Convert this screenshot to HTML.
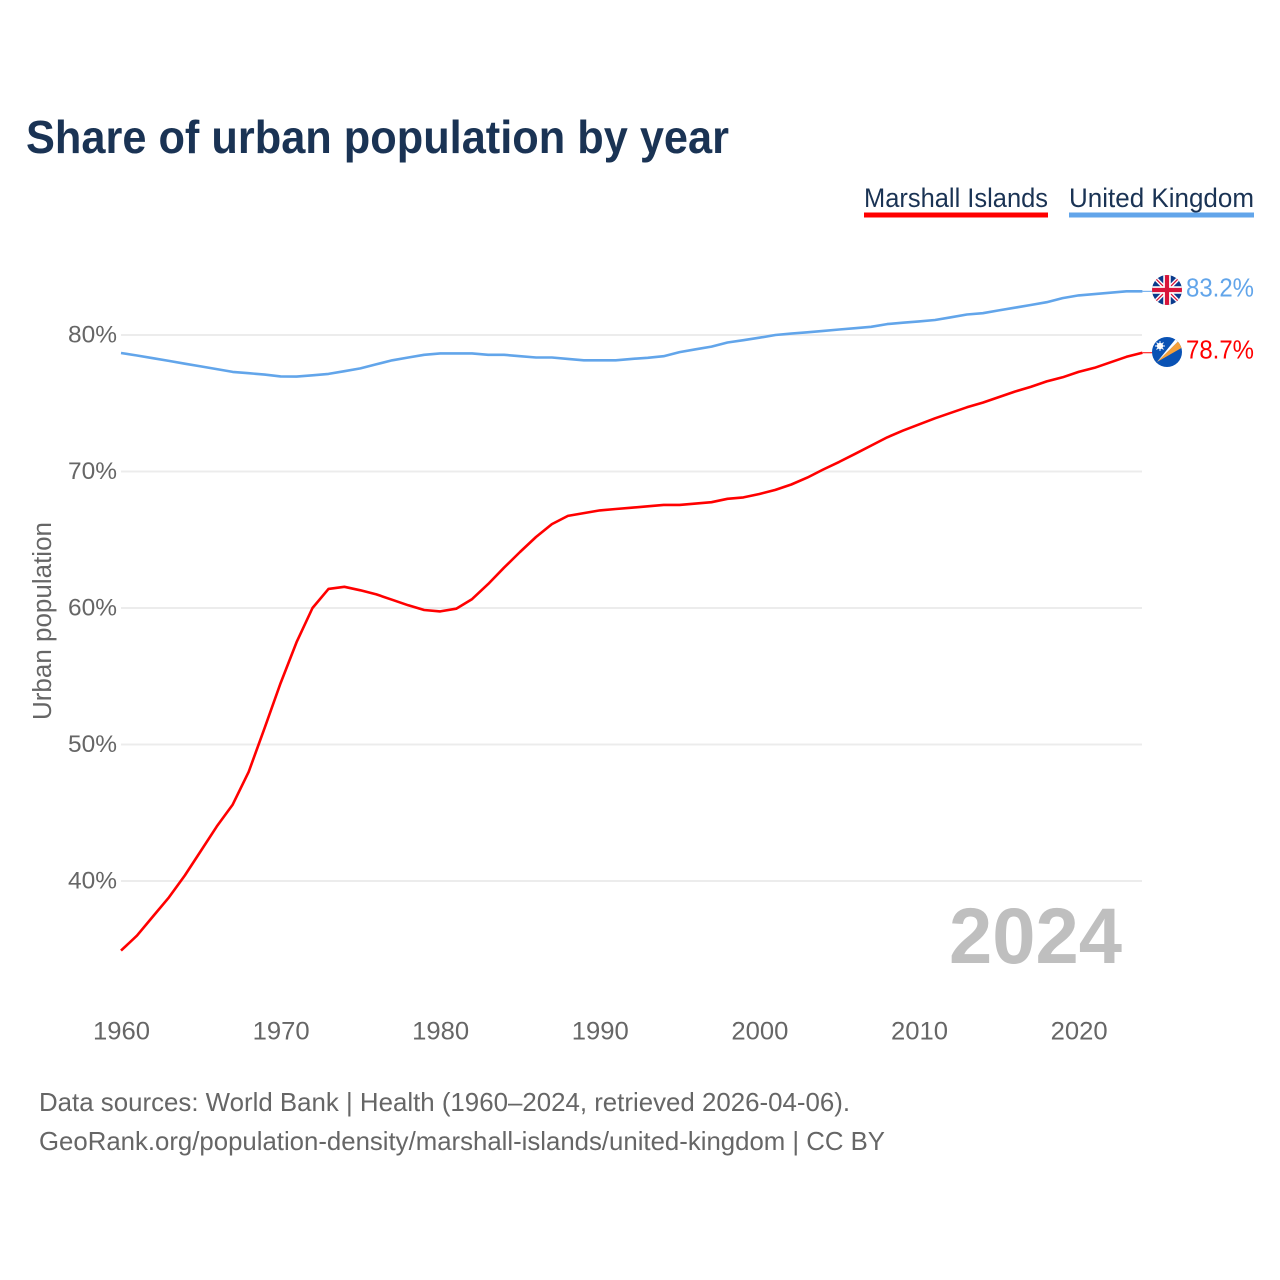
<!DOCTYPE html>
<html lang="en">
<head>
<meta charset="utf-8">
<title>Share of urban population by year</title>
<style>
html,body{margin:0;padding:0;background:#fff;width:1280px;height:1280px;overflow:hidden}
svg{display:block}
text{font-family:"Liberation Sans",sans-serif}
</style>
</head>
<body>
<svg id="chart" xmlns="http://www.w3.org/2000/svg" width="1280" height="1280" viewBox="0 0 1280 1280">
  <defs>
    <clipPath id="uk-clip"><circle cx="1167" cy="290" r="15"/></clipPath>
    <clipPath id="mh-clip"><circle cx="1167" cy="352" r="15"/></clipPath>
  </defs>
  <rect width="1280" height="1280" fill="#fff"/>
  <text x="26" y="153" font-size="46" font-weight="700" fill="#1a3354" textLength="703" lengthAdjust="spacingAndGlyphs">Share of urban population by year</text>

  <g>
    <g>
      <text x="864" y="207" font-size="27" fill="#1a3354" textLength="184" lengthAdjust="spacingAndGlyphs">Marshall Islands</text>
      <rect x="864" y="212.5" width="184" height="5" fill="#ff0000"/>
    </g>
    <g>
      <text x="1069" y="207" font-size="27" fill="#1a3354" textLength="185" lengthAdjust="spacingAndGlyphs">United Kingdom</text>
      <rect x="1069" y="212.5" width="185" height="5" fill="#62a5ea"/>
    </g>
  </g>

  <g id="grid"></g>
  <g id="yticks"></g>
  <g id="xticks"></g>
  <text transform="translate(51 720) rotate(-90)" font-size="25.5" fill="#666" textLength="198" lengthAdjust="spacingAndGlyphs">Urban population</text>
  <text x="949" y="963" font-size="79" font-weight="700" fill="#bfbfbf" textLength="173" lengthAdjust="spacingAndGlyphs">2024</text>
  <g id="series"></g>

  <g clip-path="url(#uk-clip)">
    <rect x="1152" y="275" width="30" height="30" fill="#0a3a8c"/>
    <path d="M1152 275L1182 305M1182 275L1152 305" stroke="#fff" stroke-width="4"/>
    <path d="M1152 275L1182 305M1182 275L1152 305" stroke="#d8143a" stroke-width="1.3"/>
    <path d="M1167 275V305M1152 290H1182" stroke="#fff" stroke-width="7.5"/>
    <path d="M1167 275V305M1152 290H1182" stroke="#d8143a" stroke-width="4.2"/>
  </g>
  <g clip-path="url(#mh-clip)">
    <rect x="1152" y="337" width="30" height="30" fill="#0a52b4"/>
    <path d="M1157 362L1180 339.5L1183 347Z" fill="#f5a03a"/>
    <path d="M1157 362L1176.5 338L1180 339.5Z" fill="#fff"/>
    <circle cx="1160" cy="346" r="3.2" fill="#fff"/>
    <path d="M1160 341V351M1155 346H1165M1156.5 342.5L1163.5 349.5M1163.5 342.5L1156.5 349.5" stroke="#fff" stroke-width="0.9"/>
  </g>

  <text id="value-uk" x="1186" y="296.5" font-size="26" fill="#62a5ea" textLength="68" lengthAdjust="spacingAndGlyphs"></text>
  <text id="value-mh" x="1186" y="358.5" font-size="26" fill="#ff0000" textLength="68" lengthAdjust="spacingAndGlyphs"></text>

  <text x="39" y="1111" font-size="26" fill="#666" textLength="811" lengthAdjust="spacingAndGlyphs">Data sources: World Bank | Health (1960–2024, retrieved 2026-04-06).</text>
  <text x="39" y="1150" font-size="26" fill="#666" textLength="846" lengthAdjust="spacingAndGlyphs">GeoRank.org/population-density/marshall-islands/united-kingdom | CC BY</text>
</svg>
<script>
const startYear = 1960;
const xTickYears = [1960, 1970, 1980, 1990, 2000, 2010, 2020];
const yTickValues = [40, 50, 60, 70, 80];
const marshallIslands = [34.9,36.0,37.4,38.8,40.4,42.2,44.0,45.6,48.0,51.2,54.5,57.5,60.0,61.4,61.55,61.3,61.0,60.6,60.2,59.85,59.75,59.95,60.65,61.75,62.95,64.1,65.2,66.15,66.75,66.95,67.15,67.25,67.35,67.45,67.55,67.55,67.65,67.75,68.0,68.1,68.35,68.65,69.05,69.55,70.15,70.7,71.3,71.9,72.5,73.0,73.45,73.9,74.3,74.7,75.05,75.45,75.85,76.2,76.6,76.9,77.3,77.6,78.0,78.4,78.7];
const unitedKingdom = [78.68,78.5,78.3,78.1,77.9,77.7,77.5,77.3,77.2,77.1,76.97,76.95,77.05,77.15,77.35,77.55,77.85,78.15,78.35,78.55,78.65,78.65,78.65,78.55,78.55,78.45,78.35,78.35,78.25,78.15,78.15,78.15,78.25,78.33,78.45,78.75,78.95,79.15,79.45,79.62,79.8,80.0,80.1,80.2,80.3,80.4,80.5,80.6,80.8,80.9,81.0,81.1,81.3,81.5,81.6,81.8,82.0,82.2,82.4,82.7,82.9,83.0,83.1,83.2,83.2];

const svgNS = 'http://www.w3.org/2000/svg';
function xScale(year) { return 121 + (year - 1960) * 15.96; }
function yScale(v) { return 335 + (80 - v) * 13.65; }

const grid = document.getElementById('grid');
const yticks = document.getElementById('yticks');
const xticks = document.getElementById('xticks');
const series = document.getElementById('series');

yTickValues.forEach(function (v) {
  const line = document.createElementNS(svgNS, 'line');
  
  
  line.setAttribute('x1', 121);
  line.setAttribute('x2', 1142);
  line.setAttribute('y1', yScale(v));
  line.setAttribute('y2', yScale(v));
  line.setAttribute('stroke', '#ececec');
  line.setAttribute('stroke-width', 2);
  grid.appendChild(line);
  const t = document.createElementNS(svgNS, 'text');
  
  
  t.setAttribute('x', 68);
  t.setAttribute('y', yScale(v) + 7.5);
  t.setAttribute('font-size', 24.5);
  t.setAttribute('fill', '#666');
  t.setAttribute('textLength', 49);
  t.setAttribute('lengthAdjust', 'spacingAndGlyphs');
  t.textContent = v + '%';
  yticks.appendChild(t);
});

xTickYears.forEach(function (y) {
  const t = document.createElementNS(svgNS, 'text');
  
  
  t.setAttribute('x', xScale(y) - 28);
  t.setAttribute('y', 1039.5);
  t.setAttribute('font-size', 25);
  t.setAttribute('fill', '#666');
  t.setAttribute('textLength', 57);
  t.setAttribute('lengthAdjust', 'spacingAndGlyphs');
  t.textContent = y;
  xticks.appendChild(t);
});

function drawLine(values, color, name) {
  const pts = values.map(function (v, i) {
    return xScale(startYear + i).toFixed(1) + ',' + yScale(v).toFixed(1);
  });
  const path = document.createElementNS(svgNS, 'polyline');
  
  
  path.setAttribute('points', pts.join(' '));
  path.setAttribute('fill', 'none');
  path.setAttribute('stroke', color);
  path.setAttribute('stroke-width', 2.6);
  path.setAttribute('stroke-linejoin', 'round');
  series.appendChild(path);
  const last = values.length - 1;
  const link = document.createElementNS(svgNS, 'line');
  
  
  link.setAttribute('x1', xScale(startYear + last));
  link.setAttribute('x2', 1153);
  link.setAttribute('y1', yScale(values[last]));
  link.setAttribute('y2', yScale(values[last]));
  link.setAttribute('stroke', color);
  link.setAttribute('stroke-width', 1);
  series.appendChild(link);
}
drawLine(unitedKingdom, '#62a5ea', 'line-united-kingdom');
drawLine(marshallIslands, '#ff0000', 'line-marshall-islands');

document.getElementById('value-uk').textContent = unitedKingdom[unitedKingdom.length - 1].toFixed(1) + '%';
document.getElementById('value-mh').textContent = marshallIslands[marshallIslands.length - 1].toFixed(1) + '%';
</script>
</body>
</html>
